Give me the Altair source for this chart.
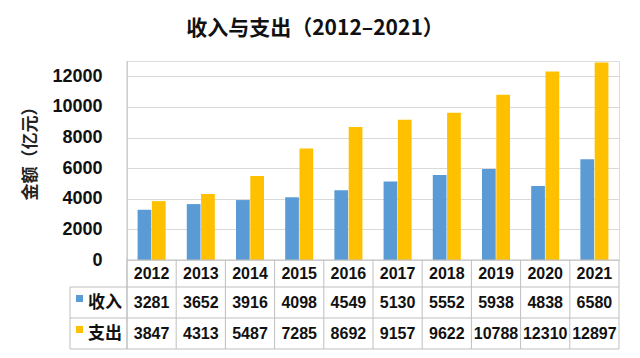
import altair as alt
import pandas as pd

years = ["2012", "2013", "2014", "2015", "2016", "2017", "2018", "2019", "2020", "2021"]
income = [3281, 3652, 3916, 4098, 4549, 5130, 5552, 5938, 4838, 6580]
expense = [3847, 4313, 5487, 7285, 8692, 9157, 9622, 10788, 12310, 12897]
series_names = ["收入", "支出"]
colors = ["#5B9BD5", "#FFC000"]

rows = []
for y, a, b in zip(years, income, expense):
    rows.append({"year": y, "series": "收入", "value": a})
    rows.append({"year": y, "series": "支出", "value": b})
df = pd.DataFrame(rows)

W, H = 492, 199
LINE = "#bfbfbf"
NUMFONT = "Liberation Sans"
CJK = "Noto Sans CJK SC"

xscale = alt.Scale(domain=years, paddingInner=0.43, paddingOuter=0.215)
cscale = alt.Scale(domain=series_names, range=colors)

base = alt.Chart(df)

bars = base.mark_bar().encode(
    x=alt.X("year:N", scale=xscale, axis=None),
    xOffset=alt.XOffset("series:N", scale=alt.Scale(domain=series_names, paddingInner=0.04)),
    y=alt.Y(
        "value:Q",
        scale=alt.Scale(domain=[0, 13000], nice=False),
        axis=alt.Axis(
            values=[0, 2000, 4000, 6000, 8000, 10000, 12000],
            title="金额（亿元）",
            titleFont=CJK,
            titleFontSize=17,
            titleFontWeight="bold",
            titleColor="#222222",
            titleX=-97,
            titleY=88,
            titleAngle=270,
            titleAlign="center",
            titleBaseline="middle",
            labelFont=NUMFONT,
            labelFontSize=18,
            labelFontWeight="bold",
            labelColor="#111111",
            labelPadding=25,
            ticks=False,
            domain=False,
            grid=True,
            gridColor="#d9d9d9",
            format="d",
        ),
    ),
    color=alt.Color("series:N", scale=cscale, legend=None),
)

one = alt.Data(values=[{"k": 1}])

axis_line = alt.Chart(one).mark_rule(color=LINE).encode(
    x=alt.value(0), y=alt.value(0), y2=alt.value(288)
)
right_line = alt.Chart(one).mark_rule(color=LINE).encode(
    x=alt.value(W), y=alt.value(H), y2=alt.value(288)
)
base_line = alt.Chart(one).mark_rule(color=LINE).encode(
    x=alt.value(0), x2=alt.value(W), y=alt.value(H)
)
h1 = alt.Chart(one).mark_rule(color=LINE).encode(x=alt.value(-57), x2=alt.value(W), y=alt.value(226))
h2 = alt.Chart(one).mark_rule(color=LINE).encode(x=alt.value(-57), x2=alt.value(W), y=alt.value(257))
h3 = alt.Chart(one).mark_rule(color=LINE).encode(x=alt.value(-57), x2=alt.value(W), y=alt.value(288))
legend_edge = alt.Chart(one).mark_rule(color=LINE).encode(
    x=alt.value(-57), y=alt.value(226), y2=alt.value(288)
)

year_df = pd.DataFrame({"year": years})
vlines = alt.Chart(year_df).mark_rule(color=LINE, xOffset=-24.6).encode(
    x=alt.X("year:N", scale=xscale, axis=None), y=alt.value(H), y2=alt.value(288)
)

year_text = alt.Chart(year_df).mark_text(
    font=NUMFONT, fontSize=16, fontWeight="bold", color="#111111", baseline="middle"
).encode(x=alt.X("year:N", scale=xscale, axis=None), y=alt.value(212.5), text="year:N")

inc_text = base.transform_filter(alt.datum.series == "收入").mark_text(
    font=NUMFONT, fontSize=16, fontWeight="bold", color="#111111", baseline="middle"
).encode(
    x=alt.X("year:N", scale=xscale, axis=None),
    y=alt.value(241.5),
    text=alt.Text("value:Q", format="d"),
)
exp_text = base.transform_filter(alt.datum.series == "支出").mark_text(
    font=NUMFONT, fontSize=16, fontWeight="bold", color="#111111", baseline="middle"
).encode(
    x=alt.X("year:N", scale=xscale, axis=None),
    y=alt.value(272.5),
    text=alt.Text("value:Q", format="d"),
)

leg_df = pd.DataFrame({"series": series_names})
sq1 = alt.Chart(leg_df).transform_filter(alt.datum.series == "收入").mark_square(size=49, opacity=1).encode(
    x=alt.value(-47.5), y=alt.value(237.5), color=alt.Color("series:N", scale=cscale, legend=None)
)
sq2 = alt.Chart(leg_df).transform_filter(alt.datum.series == "支出").mark_square(size=49, opacity=1).encode(
    x=alt.value(-47.5), y=alt.value(268.5), color=alt.Color("series:N", scale=cscale, legend=None)
)
lt1 = alt.Chart(leg_df).transform_filter(alt.datum.series == "收入").mark_text(
    font=CJK, fontSize=17, fontWeight="bold", color="#111111", align="left", baseline="middle"
).encode(x=alt.value(-39), y=alt.value(241.5), text="series:N")
lt2 = alt.Chart(leg_df).transform_filter(alt.datum.series == "支出").mark_text(
    font=CJK, fontSize=17, fontWeight="bold", color="#111111", align="left", baseline="middle"
).encode(x=alt.value(-39), y=alt.value(272.5), text="series:N")

chart = alt.layer(
    bars, base_line, vlines, right_line, h1, h2, h3, legend_edge, axis_line,
    year_text, inc_text, exp_text, sq1, sq2, lt1, lt2,
).properties(
    width=W,
    height=H,
    title=alt.TitleParams(
        "收入与支出（2012–2021）",
        font=CJK,
        fontSize=21,
        fontWeight="bold",
        color="#111111",
        anchor="middle",
        dx=-58,
        offset=22,
    ),
    autosize=alt.AutoSizeParams(type="none"),
    padding={"left": 119, "top": 53, "right": 13, "bottom": 90},
).configure_view(strokeWidth=0).configure(background="white")

chart.save("out.html", embed_options={"renderer": "svg", "actions": False})
